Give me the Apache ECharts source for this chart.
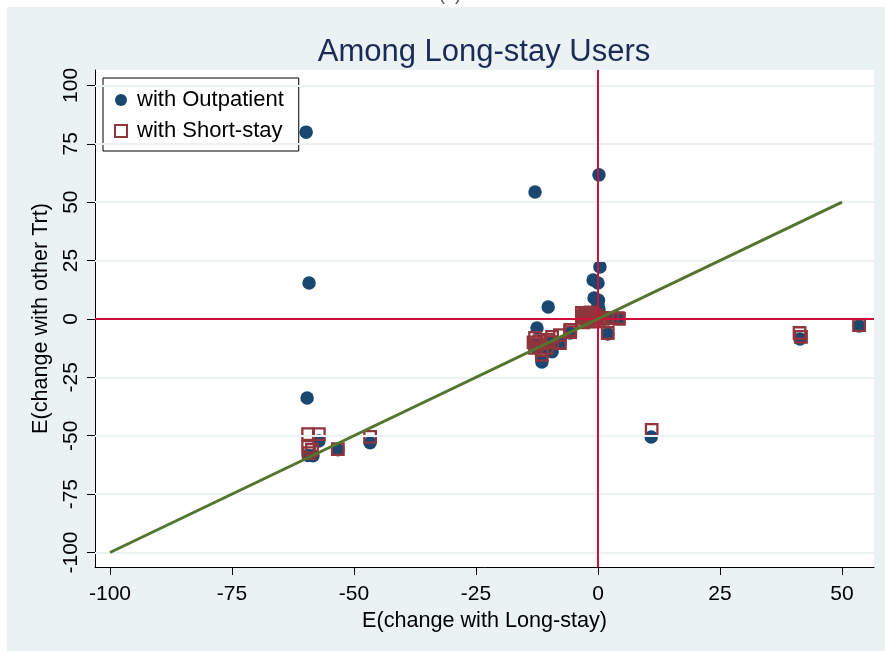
<!DOCTYPE html>
<html>
<head>
<meta charset="utf-8">
<script src="https://cdn.jsdelivr.net/npm/echarts@6/dist/echarts.min.js"></script>
<style>html,body{margin:0;padding:0;background:#fff}#c{width:885px;height:651px}</style>
</head>
<body>
<div id="c"></div>
<script>
// ---- data ----
const xTicks = [-100, -75, -50, -25, 0, 25, 50];
const yTicks = [-100, -75, -50, -25, 0, 25, 50, 75, 100];

const outpatientX = [-59.8, -59.2, -59.6, -12.9, 0.2, 0.4, -1.0, 0.0, -0.8, 0.1, 0.2, -10.2, -12.5, -11.5, 10.9, 41.4, 53.5, 2.0,
  -57.2, -59.4, -58.4, -53.3, -46.7, -13.0, -12.5, -10.5, -9.4, -7.8, -5.7, -3.3, -1.6, -0.6, 0.2, 2.9, 4.1, -9.4, 0.0, -0.5];
const outpatientY = [80.0, 15.4, -33.8, 54.4, 61.7, 22.3, 16.7, 15.4, 9.0, 8.0, 4.0, 5.1, -3.9, -18.4, -50.5, -8.6, -3.0, -6.4,
  -52.2, -58.5, -58.6, -56.0, -53.0, -11.0, -12.5, -12.4, -10.0, -10.3, -6.0, 1.0, 0.0, 0.5, 2.0, 0.4, 0.2, -14.0, 6.0, 2.5];

const shortstayX = [-59.4, -57.2, -59.4, -59.2, -58.6, -53.3, -46.7, 11.0, 41.3, 41.6, 53.5, 2.0,
  -12.9, -12.9, -13.2, -12.5, -11.5, -11.5, -10.2, -10.5, -9.4, -9.4, -7.8, -7.8, -5.7, -5.7,
  -3.3, -3.3, -2.5, -2.0, -2.0, -1.6, -1.0, -1.0, -0.6, 0.0, 0.5, 1.0, 2.0, 2.9, 4.1, 4.3, -3.0, -1.5, -0.3, -2.8, -12.0];
const shortstayY = [-49.3, -49.3, -54.8, -57.4, -56.0, -55.7, -50.5, -47.5, -6.0, -7.7, -2.6, -6.0,
  -8.1, -12.4, -10.0, -11.0, -13.3, -15.4, -9.0, -12.4, -9.9, -7.7, -6.9, -10.3, -4.7, -5.6,
  0.9, 2.6, 0.0, -1.0, 2.0, 0.9, -1.0, 2.0, 0.0, -1.0, 0.5, 0.0, 0.4, 0.4, 0.4, 0.0, -1.5, 2.8, 1.5, 1.8, -9.5];

const diagX = [-100, 50];
const diagY = [-100, 50];

const seriesNames = ['with Outpatient', 'with Short-stay'];
const titleText = 'Among Long-stay Users';
const xTitle = 'E(change with Long-stay)';
const yTitle = 'E(change with other Trt)';

// ---- chart ----
const FONT = '"Liberation Sans", Arial, Helvetica, sans-serif';
const NAVY = '#1a476f', MAROON = '#90353b', GREEN = '#55752f', RED = '#d0103a';
const BG = '#eaf2f3';

const chart = echarts.init(document.getElementById('c'), null, {renderer: 'canvas'});
const zip = (a, b) => a.map((v, i) => [v, b[i]]);

const option = {
  animation: false,
  backgroundColor: BG,
  textStyle: {fontFamily: FONT},
  graphic: [
    {type: 'rect', shape: {x: 0, y: 0, width: 885, height: 7}, style: {fill: '#fff'}, silent: true},
    {type: 'rect', shape: {x: 0, y: 0, width: 7, height: 651}, style: {fill: '#fff'}, silent: true},
    {type: 'text', x: 450, y: 4, style: {text: '(b)', fill: '#555', font: '18px ' + FONT, textAlign: 'center', textVerticalAlign: 'bottom'}, silent: true},
    {type: 'text', x: 484, y: 37, z: 10, style: {text: titleText, fill: '#1c2b55', font: '31px ' + FONT, textAlign: 'center', textVerticalAlign: 'top'}, silent: true}
  ],
  legend: {
    orient: 'vertical', left: 103, top: 78,
    backgroundColor: '#fff', borderColor: '#000', borderWidth: 1, borderRadius: 0,
    padding: [11, 15, 9, 11], itemGap: 9, itemWidth: 12, itemHeight: 12, itemTextGap: 17,
    textStyle: {fontFamily: FONT, fontSize: 22, color: '#000', padding: [0, 0, 0, 5]},
    data: [
      {name: seriesNames[0], icon: 'circle', itemStyle: {color: NAVY}},
      {name: seriesNames[1], icon: 'rect', itemStyle: {color: '#fff', borderColor: MAROON, borderWidth: 2}}
    ]
  },
  grid: {left: 95, top: 70, right: 11, bottom: 84, show: true, backgroundColor: '#fff', borderWidth: 0},
  xAxis: {
    type: 'value', min: -103.07, max: 56.56,
    name: xTitle, nameLocation: 'middle', nameGap: 37,
    nameTextStyle: {fontFamily: FONT, fontSize: 21.6, color: '#000'},
    axisLine: {show: true, onZero: false, lineStyle: {color: '#000', width: 1}},
    axisTick: {show: true, length: 8, customValues: xTicks, lineStyle: {color: '#000'}},
    axisLabel: {customValues: xTicks, fontFamily: FONT, fontSize: 21, color: '#000', margin: 17},
    splitLine: {show: false}
  },
  yAxis: {
    type: 'value', min: -106.2, max: 106.6,
    name: yTitle, nameLocation: 'middle', nameGap: 43, nameRotate: 90,
    nameTextStyle: {fontFamily: FONT, fontSize: 21.6, color: '#000'},
    axisLine: {show: true, onZero: false, lineStyle: {color: '#000', width: 1}},
    axisTick: {show: true, length: 8, customValues: yTicks, lineStyle: {color: '#000'}},
    axisLabel: {customValues: yTicks, rotate: 90, fontFamily: FONT, fontSize: 21, color: '#000', margin: 13},
    splitLine: {show: false}
  },
  series: [
    {
      type: 'line', data: [], z: 1, silent: true,
      markLine: {
        silent: true, symbol: 'none', label: {show: false}, animation: false,
        lineStyle: {color: BG, width: 2, type: 'solid'},
        data: yTicks.map(v => ({yAxis: v}))
      }
    },
    {
      type: 'line', data: [], z: 2, silent: true,
      markLine: {
        silent: true, symbol: 'none', label: {show: false}, animation: false,
        lineStyle: {color: RED, width: 2, type: 'solid'},
        data: [{yAxis: 0}, {xAxis: 0}]
      }
    },
    {
      name: seriesNames[0], type: 'scatter', z: 3,
      symbol: 'circle', symbolSize: 13.5,
      itemStyle: {color: NAVY, opacity: 1},
      data: zip(outpatientX, outpatientY)
    },
    {
      name: seriesNames[1], type: 'scatter', z: 4,
      symbol: 'rect', symbolSize: 11.5,
      itemStyle: {color: 'rgba(255,255,255,0)', borderColor: MAROON, borderWidth: 2.3, opacity: 1},
      data: zip(shortstayX, shortstayY)
    },
    {
      type: 'line', z: 5, silent: true, showSymbol: false, symbol: 'none',
      lineStyle: {color: GREEN, width: 3},
      data: zip(diagX, diagY)
    }
  ]
};
chart.setOption(option);
</script>
</body>
</html>
